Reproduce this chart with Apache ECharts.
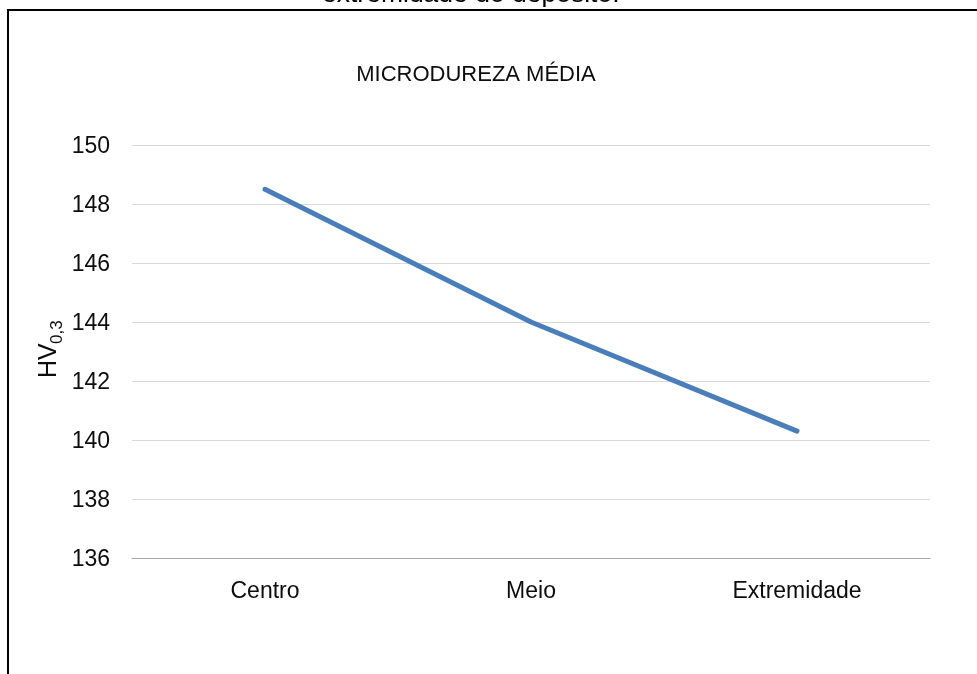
<!DOCTYPE html>
<html>
<head>
<meta charset="utf-8">
<style>
  html, body { margin: 0; padding: 0; background: #ffffff; }
  #chart { width: 977px; height: 674px; }
</style>
<script src="https://cdn.jsdelivr.net/npm/echarts@6/dist/echarts.min.js"></script>
</head>
<body>
<div id="chart"></div>
<script>
// Average microhardness along the deposit
const categories = ['Centro', 'Meio', 'Extremidade'];
const hardness = [148.5, 144.0, 140.3];
const yTicks = { min: 136, max: 150, interval: 2 };

const FONT = 'Liberation Sans, Arial, sans-serif';
const TEXT = '#0d0d0d';
const chart = echarts.init(document.getElementById('chart'), null, { renderer: 'canvas' });

chart.setOption({
  backgroundColor: '#ffffff',
  animation: false,
  title: {
    text: 'MICRODUREZA MÉDIA',
    left: 471,
    top: 59,
    textAlign: 'center',
    textStyle: { fontFamily: FONT, fontSize: 22, fontWeight: 'normal', color: TEXT }
  },
  grid: { left: 132, right: 47, top: 145, bottom: 116 },
  xAxis: {
    type: 'category',
    data: categories,
    boundaryGap: true,
    axisLine: { lineStyle: { color: '#a6a6a6', width: 1 } },
    axisTick: { show: false },
    axisLabel: { fontFamily: FONT, fontSize: 23, color: TEXT, margin: 22 }
  },
  yAxis: {
    type: 'value',
    min: yTicks.min,
    max: yTicks.max,
    interval: yTicks.interval,
    axisLine: { show: false },
    axisTick: { show: false },
    splitLine: { lineStyle: { color: '#d9d9d9', width: 1 } },
    axisLabel: {
      fontFamily: FONT, fontSize: 23, color: TEXT, margin: 22,
      formatter: v => '{v|' + v + '}',
      rich: { v: { fontFamily: FONT, fontSize: 23, color: TEXT, padding: [4, 0, 0, 0] } }
    }
  },
  series: [{
    type: 'line',
    data: hardness,
    symbol: 'none',
    lineStyle: { color: '#4a7ebb', width: 5, cap: 'round', join: 'round' }
  }],
  graphic: [
    // caption from the page above, partly cut off
    {
      type: 'text', left: 322, top: -19, silent: true,
      style: { text: 'extremidade do depósito.', fontFamily: FONT, fontSize: 26.5, fill: '#000000' }
    },
    // frame of the chart area
    { type: 'line', silent: true, shape: { x1: 7, y1: 10, x2: 977, y2: 10 }, style: { stroke: '#000000', lineWidth: 2 } },
    { type: 'line', silent: true, shape: { x1: 8, y1: 9, x2: 8, y2: 674 }, style: { stroke: '#000000', lineWidth: 2 } },
    // y axis title with subscript
    {
      type: 'group', x: 49, y: 378, rotation: Math.PI / 2, silent: true,
      children: [
        { type: 'text', x: 0, y: 0, style: { text: 'HV', fontFamily: FONT, fontSize: 25, fill: TEXT, textVerticalAlign: 'middle' } },
        { type: 'text', x: 34, y: 8, style: { text: '0,3', fontFamily: FONT, fontSize: 17, fill: TEXT, textVerticalAlign: 'middle' } }
      ]
    }
  ]
});
</script>
</body>
</html>
